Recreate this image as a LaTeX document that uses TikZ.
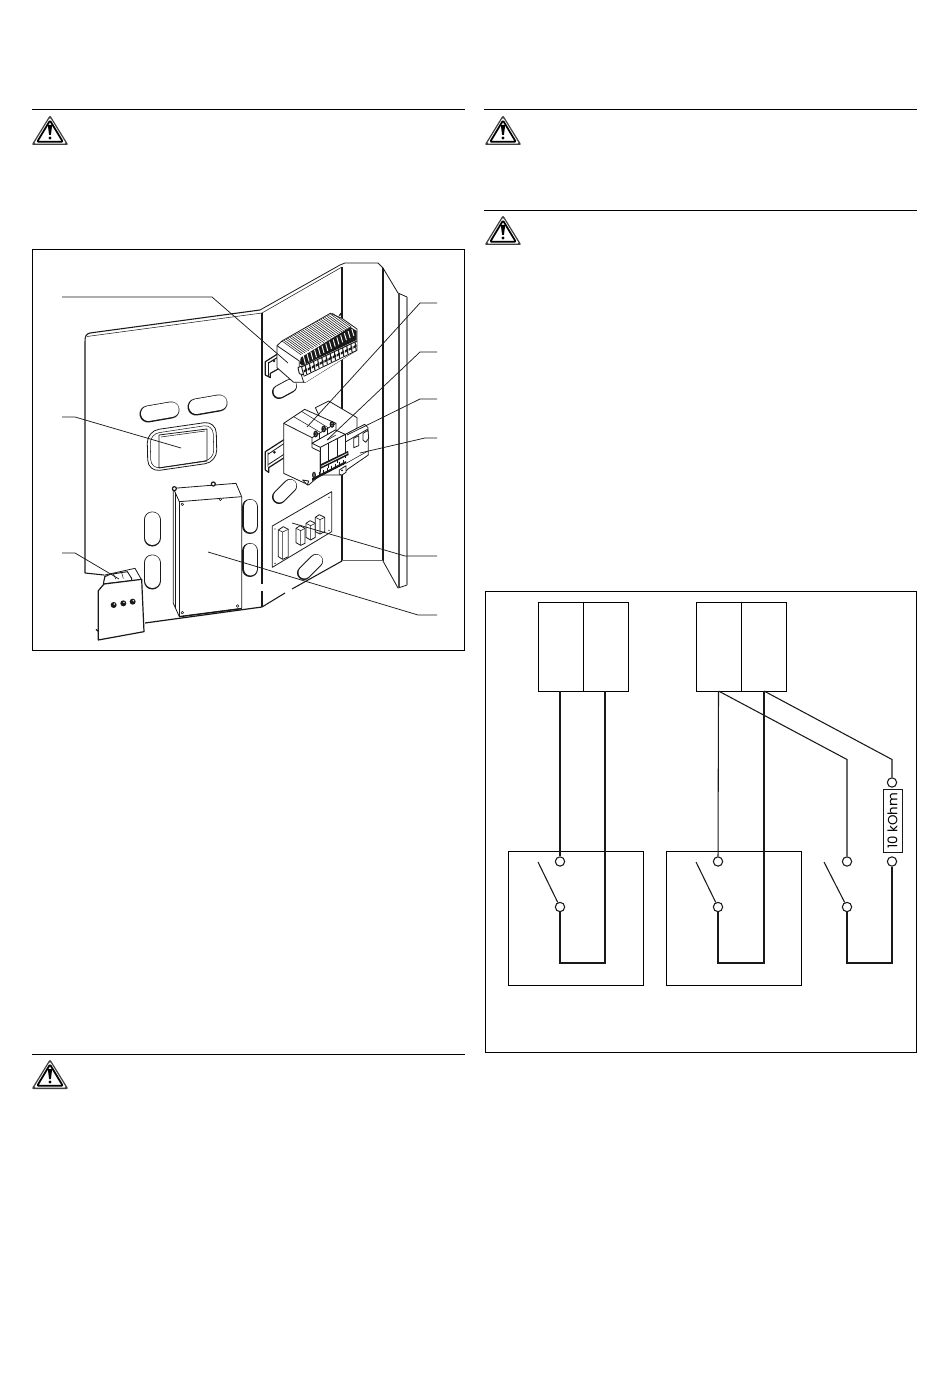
\documentclass[tikz,border=0pt]{standalone}
\usepackage{fontspec}
\setsansfont{Poppins}
\usetikzlibrary{calc}
\definecolor{ink}{gray}{0.1}
\tikzset{
  ln/.style={draw=ink,line width=0.6pt,line join=round},
  thin ln/.style={draw=ink,line width=0.4pt,line join=round},
  wire/.style={draw=ink,line width=0.8pt,line join=miter},
  rulex/.style={draw=black,line width=0.75pt},
  frame/.style={draw=black,line width=0.7pt},
  pin/.style={circle,draw=ink,fill=white,line width=0.8pt,minimum size=7pt,inner sep=0pt},
  boxx/.style={draw=black,line width=0.65pt,fill=white,inner sep=0pt,anchor=north west},
  lead/.style={draw=ink,line width=0.55pt},
  wh/.style={fill=white,draw=ink,line width=0.6pt,line join=round},
}
\newcommand{\warn}[3]{%
  \coordinate (#1) at (#2,#3);
  \fill[black!75,rounded corners=1.5pt] ($(#1)+(0,-16)$)--($(#1)+(18.5,14)$)--($(#1)+(-18.5,14)$)--cycle;
  \fill[white,rounded corners=1pt] ($(#1)+(0,-13.5)$)--($(#1)+(16,12.6)$)--($(#1)+(-16,12.6)$)--cycle;
  \draw[black,line width=1.3pt,line join=round,rounded corners=0.8pt] ($(#1)+(0,-10.5)$)--($(#1)+(12.8,10.8)$)--($(#1)+(-12.8,10.8)$)--cycle;
  \fill[black] ($(#1)+(-2.2,-6)$)--($(#1)+(2.2,-6)$)--($(#1)+(0.9,4)$)--($(#1)+(-0.9,4)$)--cycle;
  \fill[black] ($(#1)+(0,7)$) circle (1.7);
}
\newcommand{\slot}[5]{% x1 y1 x2 y2 width
  \draw[line cap=round,ink,line width=#5*0.75pt] (#1,#2)--(#3,#4);
  \draw[line cap=round,white,line width=(#5-2.2)*0.75pt] ($(#1,#2)+(0.4,-0.4)$)--($(#3,#4)+(0.4,-0.4)$);
}
\begin{document}
\begin{tikzpicture}[x=0.75pt,y=-0.75pt]
\useasboundingbox (0,0) rectangle (950,1387);
\fill[white] (0,0) rectangle (950,1387);
% rules
\coordinate (ra1) at (32,110); \coordinate (ra2) at (465,110);
\coordinate (rb1) at (484,110); \coordinate (rb2) at (917,110);
\coordinate (rc1) at (484,210.5); \coordinate (rc2) at (917,210.5);
\coordinate (rd1) at (32,1054); \coordinate (rd2) at (465,1054);
\draw[rulex] (ra1)--(ra2); \draw[rulex] (rb1)--(rb2); \draw[rulex] (rc1)--(rc2); \draw[rulex] (rd1)--(rd2);
\warn{wa}{50}{131}\warn{wb}{503}{131}\warn{wc}{503}{231}\warn{wd}{50}{1075}
% left frame
\draw[frame] (32.5,249.5) rectangle (464.7,650.5);

% ---- left panel
\draw[ln,line width=0.8pt] (85,573)--(85,342) .. controls (85,336) and (86,334) .. (90,333)--(260,310);
\draw[thin ln] (87,336.5)--(262,313);
\draw[ln,line width=0.8pt] (85,573)--(104,575);
\draw[ln,line width=0.8pt] (262,313)--(262,584);
\draw[ln,line width=0.8pt] (262,591)--(262,607);
\draw[ln,line width=0.9pt] (145,623)--(262,607);
% ---- centre panel
\draw[ln] (260,310)--(340,265)--(345,263)--(378,263)--(383,268);
\draw[thin ln] (262,313)--(342,267);
\draw[ln,line width=0.8pt] (342,267)--(342,561);
\draw[ln,line width=0.8pt] (383,268)--(383,561);
\draw[ln,line width=0.8pt] (262,607)--(285,593);
\draw[ln,line width=0.8pt] (292,589)--(342,561);
\draw[black!60,line width=1pt] (342,560.5)--(383,560.5);
\draw[ln] (383,268)--(398,293)--(407,297);
\draw[ln] (383,561)--(398,588)--(407,585);
\draw[draw=black!70,line width=1.6pt] (399,294)--(399,587);
\draw[draw=black!45,line width=1.5pt] (407,297)--(407,585);

% slots
\slot{148}{414}{171}{410}{17}
\slot{196}{407}{219}{403}{17}
\slot{152}{520}{152}{538}{17}
\slot{152}{563}{152}{581}{17}
\slot{250}{507}{250}{526}{16}
\slot{250}{551}{250}{569}{16}
\slot{279}{392}{290}{386}{14}
\slot{279}{497}{290}{486}{14}
\slot{304}{573}{316}{561}{14}

% window
\draw[ln,rounded corners=9pt] (147,431)--(216,421)--(217,462)--(148,472)--cycle;
\draw[thin ln,rounded corners=7pt] (150,434)--(213,424.5)--(214,459.5)--(151,469)--cycle;
\draw[ln] (159,435)--(207,429)--(207,461)--(159,468)--cycle;
\draw[thin ln] (161,437)--(205,431);

% big box
\begin{scope}[shift={(60,400)},scale=1/3]
\draw[wh] (340,265)--(528,250)--(545,290)--(545,625)--(358,650)--(340,610)--cycle;
\draw[ln] (340,265)--(358,305)--(545,290);
\draw[ln] (358,305)--(358,650);
\draw[thin ln] (347,280)--(347,625);
\draw[line width=1pt,ink] (358,650)--(545,626);
\foreach \p in {(367,313),(481,298),(367,638),(533,618)} \draw[thin ln,fill=white] \p circle (4);
\draw[wh,line width=0.9pt] (343,266) circle (6);
\draw[wh,line width=0.9pt] (460,252) circle (6);
\end{scope}

% small box
\begin{scope}[shift={(90,560)},scale=1/3]
\draw[wh] (45,45)--(135,25)--(155,60)--(40,72)--cycle;
\draw[wh,line width=0.7pt] (40,72)--(45,50)--(60,43)--(112,35)--(125,55)--(125,62)--cycle;
\draw[thin ln] (70,42)--(78,58) (95,38)--(100,56);
\draw[wh,line width=0.9pt] (25,92)--(42,72)--(155,58)--(162,215)--(25,240)--cycle;
\draw[ink,line width=0.9pt] (18,208)--(25,214);
\foreach \q in {(71,135),(100,130),(128,125)}{\fill[ink] \q circle (9); \fill[white] \q ++(2,-3) circle (2.5);}
\end{scope}

% plate with components
\begin{scope}[shift={(240,460)},scale=1/3]
\draw[wh] (97,198)--(275,95)--(275,215)--(97,322)--cycle;
\foreach \q in {(105,207),(267,112),(267,211),(105,310)} \fill[ink] \q circle (2.2);
\draw[wh] (115,210)--(130,200)--(145,208)--(145,290)--(128,298)--(115,290)--cycle;
\draw[thin ln] (115,210)--(128,216)--(145,208) (128,216)--(128,298);
\draw[draw=black!50,line width=0.8pt] (145,210)--(145,290);
\draw[wh] (168,205)--(180,197)--(195,205)--(195,250)--(182,256)--(168,248)--cycle;
\draw[thin ln] (168,205)--(182,212)--(195,205) (182,212)--(182,256);
\draw[wh] (198,190)--(210,182)--(226,190)--(226,232)--(212,240)--(198,232)--cycle;
\draw[thin ln] (198,190)--(212,197)--(226,190) (212,197)--(212,240);
\draw[wh] (226,172)--(238,164)--(254,172)--(254,215)--(240,222)--(226,215)--cycle;
\draw[thin ln] (226,172)--(240,179)--(254,172) (240,179)--(240,222);
\end{scope}

% terminal block
\begin{scope}[shift={(262,305)},scale=1/3]
% rail bracket
\draw[wh,line width=0.9pt] (10,170)--(45,148)--(52,160)--(52,190)--(25,205)--(25,218)--(10,210)--cycle;
\draw[thin ln] (18,172)--(18,212);
\draw[ink,line width=0.8pt] (18,175)--(50,155);
\fill[ink] (36,168) circle (4);
% body
\draw[wh] (45,122)--(60,108)--(205,25)--(240,40)--(285,72)--(285,135)--(130,232)--(95,232)--(45,188)--cycle;
\draw[ln] (45,122)--(112,168)--(112,190)--(125,232);
% dark comb
\fill[ink] (116,158)--(265,66)--(284,78)--(284,105)--(122,182)--(114,176)--cycle;
\foreach \i in {0,...,13}{
  \pgfmathsetmacro{\dx}{\i*11.2}
  \pgfmathsetmacro{\dy}{-\i*6.2}
  \draw[thin ln] (60+\dx,108+\dy)--(118+\dx,150+\dy);
  \draw[white,line width=0.7pt] (124+\dx,153+\dy)--(130+\dx,176+\dy-\i*0.2);
}
\foreach \i in {0,...,13}{
  \pgfmathsetmacro{\dx}{\i*11.2}
  \pgfmathsetmacro{\dy}{-\i*6.2}
  \draw[thin ln] (65+\dx,105+\dy)--(122+\dx,146+\dy);
}
% lower row
\fill[white] (112,190)--(285,112)--(285,135)--(130,232)--(125,212)--cycle;
\draw[ink,line width=0.7pt] (110,190)--(285,108);
\draw[ink,line width=0.6pt] (125,214)--(285,136);
\foreach \i in {0,...,12}{
  \pgfmathsetmacro{\dx}{\i*12.4}
  \pgfmathsetmacro{\dy}{-\i*6}
  \draw[ink,line width=0.8pt] (130+\dx,182+\dy)--(134+\dx,208+\dy);
  \fill[ink] (125+\dx,196+\dy) -- (135+\dx,190+\dy) -- (135+\dx,197+\dy) -- (125+\dx,203+\dy) -- cycle;
}
\draw[ink,line width=1pt] (232,32)--(240,22);
\draw[wh,line width=0.7pt] (108,188)--(118,183)--(125,210)--(112,206)--cycle;
\end{scope}

% breakers
\begin{scope}[shift={(262,395)},scale=1/3]
% rail bracket
\draw[wh,line width=0.9pt] (10,170)--(72,130)--(76,182)--(20,218)--(20,232)--(10,225)--cycle;
\draw[ink,line width=0.6pt] (18,172)--(18,215) (18,178)--(74,140) (20,208)--(75,172);
\fill[ink] (37,172) circle (4.5);
% rear
\draw[wh] (160,38)--(200,18)--(285,68)--(285,100)--(240,125)--(180,80)--cycle;
% left block
\draw[wh] (65,85)--(128,43)--(222,85)--(222,145)--(175,175)--(175,240)--(140,270)--(65,235)--cycle;
\draw[ln] (65,85)--(150,128)--(222,85);
\draw[thin ln] (95,65)--(175,112) (120,50)--(198,98);
\draw[ln] (150,128)--(150,158)--(175,170);
\draw[ln] (150,145)--(222,105);
\draw[thin ln] (172,115)--(172,135) (197,100)--(197,122);
\foreach \q in {(161,117),(185,102),(210,88)}{\draw[ink,line width=1pt,fill=black!30] \q ellipse (5 and 8); \fill[ink] \q circle (2.8);}
% right block
\draw[wh] (250,118)--(308,88)--(318,98)--(319,180)--(258,222)--(240,240)--(175,240)--(175,155)--cycle;
\draw[wh] (150,145)--(220,105)--(250,118)--(175,157)--cycle;
\draw[thin ln] (175,157)--(175,232) (200,143)--(200,218) (225,130)--(225,205) (250,118)--(250,190);
\draw[thin ln] (196,135)--(222,120);
\draw[ln] (252,140)--(318,102);
\draw[wh] (275,130)--(290,122)--(290,152)--(275,158)--cycle;
\draw[wh] (303,115)--(318,106)--(320,130)--(311,142)--(303,135)--cycle;
\draw[thin ln] (252,205)--(318,168);
% clip
\fill[ink] (175,208)--(258,168)--(260,180)--(175,222)--cycle;
\fill[ink] (150,250)--(252,198)--(252,205)--(150,258)--cycle;
\draw[white,line width=0.5pt] (178,214)--(256,175);
\foreach \i in {0,...,6}{\draw[ink,line width=0.7pt] (172+\i*12,230-\i*6)--(172+\i*12,246-\i*6);}
\draw[wh] (232,225)--(252,212)--(252,232)--(240,240)--(232,238)--cycle;
\fill[ink] (240,226) circle (3);
\draw[ink,line width=0.8pt,fill=black!40] (156,240) ellipse (4 and 8);
\draw[wh] (122,255)--(140,258)--(136,270)--cycle;
\end{scope}

% leader lines
\coordinate (a0) at (62,297); \coordinate (a1) at (212,297); \coordinate (a2) at (288,363);
\coordinate (b0) at (62,417); \coordinate (b1) at (75,417); \coordinate (b2) at (181,448);
\coordinate (c0) at (62,553); \coordinate (c1) at (75,553); \coordinate (c2) at (119,579);
\coordinate (d0) at (437,303); \coordinate (d1) at (420,303); \coordinate (d2) at (307,427);
\coordinate (e0) at (437,352); \coordinate (e1) at (420,352); \coordinate (e2) at (327,440);
\coordinate (f0) at (437,399); \coordinate (f1) at (420,399); \coordinate (f2) at (347,435);
\coordinate (g0) at (437,438); \coordinate (g1) at (425,438); \coordinate (g2) at (360,453);
\coordinate (h0) at (437,556); \coordinate (h1) at (405,556); \coordinate (h2) at (292,523);
\coordinate (i0) at (437,615); \coordinate (i1) at (418,615); \coordinate (i2) at (208,552);
\foreach \n in {a,b,c,d,e,f,g,h,i} \draw[lead] (\n0)--(\n1)--(\n2);

% ---- wiring diagram
\draw[frame] (485,591.5) rectangle (916.7,1052);
\node[boxx,minimum width=90*0.75pt,minimum height=89*0.75pt] (m1) at (537.5,601.7) {};
\node[boxx,minimum width=90*0.75pt,minimum height=89*0.75pt] (m2) at (695.5,601.7) {};
\draw[draw=black,line width=0.65pt] (m1.north)--(m1.south);
\draw[draw=black,line width=0.65pt] (m2.north)--(m2.south);
\node[boxx,minimum width=135*0.75pt,minimum height=134*0.75pt,fill=none] (s1) at (507.5,850.5) {};
\node[boxx,minimum width=135*0.75pt,minimum height=134*0.75pt,fill=none] (s2) at (665.5,850.5) {};

\node[pin] (p1) at (560,861.5) {};
\node[pin] (p2) at (560,907) {};
\node[pin] (p3) at (718,861.5) {};
\node[pin] (p4) at (718,907) {};
\node[pin] (p5) at (847,861.5) {};
\node[pin] (p6) at (847,907) {};
\node[pin] (p7) at (892,861.5) {};
\node[pin] (p8) at (892,782.5) {};
\node[draw=ink,fill=white,line width=0.75pt,inner sep=0pt,minimum width=63*0.75pt,minimum height=19*0.75pt,rotate=90,font=\sffamily\fontsize{10}{11}\selectfont] (res) at (892.5,821) {10 kOhm};

\coordinate (t1) at (560,691); \coordinate (t2) at (605,691);
\coordinate (t3) at (718.5,691); \coordinate (t4) at (764,691);
\coordinate (b1a) at (605,963); \coordinate (b1b) at (560,963);
\coordinate (b2a) at (764,963); \coordinate (b2b) at (718,963);
\coordinate (b3a) at (847,963); \coordinate (b3b) at (892,963);
\coordinate (k1) at (847,759.5); \coordinate (k2) at (892,759.5);
\draw[wire] (t1)--(p1);
\draw[wire] (t2)--(b1a)--(b1b)--(p2);
\draw[wire] (t3)--(p3);
\draw[wire] (t4)--(b2a)--(b2b)--(p4);
\draw[wire] (t3)--(k1)--(p5);
\draw[wire] (t4)--(k2)--(p8);
\draw[wire] (p6)--(b3a)--(b3b)--(p7);
\coordinate (w1) at (538,862); \coordinate (w2) at (696,862); \coordinate (w3) at (824,862);
\draw[wire] (w1)--(p2); \draw[wire] (w2)--(p4); \draw[wire] (w3)--(p6);
\end{tikzpicture}
\end{document}
